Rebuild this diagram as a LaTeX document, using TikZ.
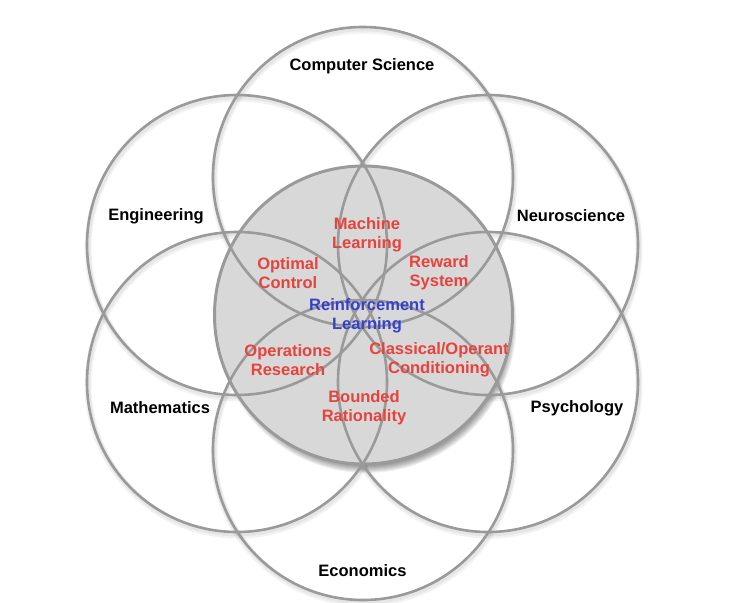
\documentclass[tikz,border=0pt]{standalone}
\usepackage{fontspec}
\setmainfont{Liberation Sans}
\definecolor{ringgray}{HTML}{9A9A9A}
\definecolor{centerfill}{HTML}{D8D8D8}
\definecolor{lblred}{HTML}{E8423C}
\definecolor{lblblue}{HTML}{3640C8}
\begin{document}
\begin{tikzpicture}[x=1pt,y=-1pt,
  ring/.style={draw=ringgray,line width=2.6pt},
  halo/.style={draw=black,opacity=0.05,line width=7pt},
  field/.style={font=\fontsize{16.5}{19}\selectfont\bfseries,text=black,align=center},
  topic/.style={font=\fontsize{16.5}{19}\selectfont\bfseries,text=lblred,align=center},
  core/.style={font=\fontsize{16.5}{19}\selectfont\bfseries,text=lblblue,align=center}]
\useasboundingbox (0,0) rectangle (740,603);
% centres
\coordinate (cCS) at (363,177);
\coordinate (cEC) at (363,450);
\coordinate (cEN) at (237,245);
\coordinate (cMA) at (237,382);
\coordinate (cNE) at (488,245);
\coordinate (cPS) at (488,382);
\coordinate (cC) at (363.5,315);
% halos of outer rings
\foreach \c in {cCS,cEC,cEN,cMA,cNE,cPS}{
  \draw[halo] ([shift={(1,3)}]\c) circle[radius=150];
  \draw[halo,line width=4.5pt] ([shift={(1,2)}]\c) circle[radius=150];
}
% drop shadow of centre circle
\foreach \r in {0,...,9}{
  \fill[black,opacity=0.06] ([shift={(3,8)}]cC) circle[radius=141+\r];
}
\fill[centerfill] (cC) circle[radius=149];
% outer rings
\foreach \c in {cCS,cEC,cEN,cMA,cNE,cPS}{
  \draw[ring] (\c) circle[radius=150];
}
\draw[ring,line width=3pt] (cC) circle[radius=149];
% field labels
\node[field] (cs) at (362,66) {Computer Science};
\node[field] (en) at (156,216) {Engineering};
\node[field] (ma) at (160,408) {Mathematics};
\node[field] (ne) at (571,216) {Neuroscience};
\node[field] (ps) at (577,408) {Psychology};
\node[field] (ec) at (362.5,571) {Economics};
% topics
\node[topic] (ml) at (367,235) {Machine\\Learning};
\node[topic] (oc) at (288,273) {Optimal\\Control};
\node[topic] (rs) at (439,273) {Reward\\System};
\node[core]  (rl) at (367,316) {Reinforcement\\Learning};
\node[topic] (or) at (288,360) {Operations\\Research};
\node[topic] (co) at (439,360) {Classical/Operant\\Conditioning};
\node[topic] (br) at (364,408) {Bounded\\Rationality};
\end{tikzpicture}
\end{document}
